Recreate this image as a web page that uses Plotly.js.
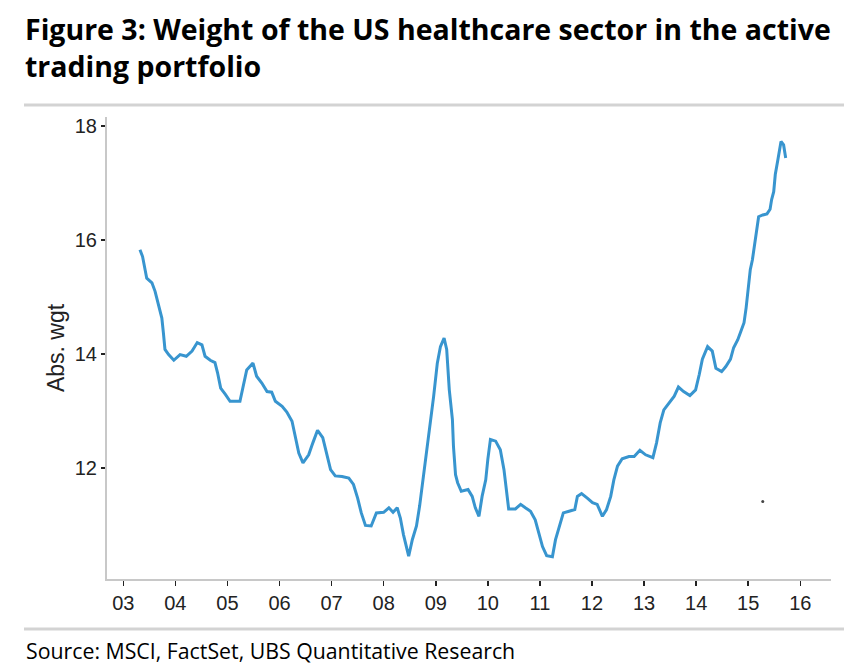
<!DOCTYPE html>
<html>
<head>
<meta charset="utf-8">
<script src="https://cdn.plot.ly/plotly-3.0.1.min.js"></script>
<style>
html,body{margin:0;padding:0;background:#fff;}
#chart{width:859px;height:670px;}
</style>
</head>
<body>
<div id="chart"></div>
<script>
// Time (fractional year) and absolute weight of US healthcare sector
var years = [2003.32,2003.37,2003.45,2003.55,2003.61,2003.67,2003.74,2003.77,2003.80,2003.87,2003.97,
2004.09,2004.21,2004.32,2004.42,2004.51,2004.57,2004.67,2004.76,2004.81,2004.87,2004.96,
2005.05,2005.24,2005.31,2005.37,2005.49,2005.56,2005.66,2005.76,2005.85,2005.92,
2006.05,2006.14,2006.24,2006.30,2006.37,2006.45,2006.56,2006.64,2006.73,2006.83,2006.90,2006.98,
2007.07,2007.20,2007.33,2007.42,2007.50,2007.57,2007.65,2007.76,2007.86,
2008.00,2008.10,2008.18,2008.26,2008.32,2008.38,2008.44,2008.48,2008.55,2008.63,2008.69,2008.74,2008.80,2008.88,2008.96,
2009.03,2009.09,2009.16,2009.21,2009.26,2009.32,2009.34,2009.38,2009.42,2009.49,2009.62,2009.70,2009.76,2009.83,2009.89,2009.96,
2010.00,2010.05,2010.15,2010.24,2010.31,2010.36,2010.40,2010.53,2010.63,2010.72,2010.82,2010.91,2010.98,
2011.05,2011.13,2011.24,2011.30,2011.37,2011.45,2011.56,2011.67,2011.72,2011.80,2011.91,
2012.01,2012.10,2012.20,2012.28,2012.36,2012.42,2012.49,2012.58,2012.71,2012.81,2012.92,
2013.03,2013.17,2013.24,2013.31,2013.38,2013.48,2013.58,2013.66,2013.76,2013.88,2013.99,
2014.06,2014.12,2014.22,2014.31,2014.38,2014.49,2014.57,2014.66,2014.72,2014.80,2014.86,2014.92,2014.96,
2015.00,2015.04,2015.08,2015.12,2015.15,2015.20,2015.28,2015.36,2015.42,2015.45,2015.49,2015.52,2015.57,2015.60,2015.63,2015.68,2015.72];
var absWgt = [15.83,15.71,15.33,15.25,15.10,14.86,14.63,14.37,14.08,13.99,13.89,
13.99,13.96,14.05,14.20,14.16,13.96,13.89,13.85,13.67,13.40,13.29,
13.17,13.17,13.49,13.72,13.84,13.61,13.49,13.34,13.33,13.17,
13.08,12.98,12.82,12.53,12.26,12.09,12.23,12.44,12.66,12.53,12.26,11.97,
11.86,11.85,11.82,11.71,11.47,11.21,10.99,10.98,11.21,
11.22,11.30,11.22,11.30,11.12,10.83,10.60,10.45,10.74,10.98,11.33,11.68,12.15,12.70,13.26,
13.84,14.13,14.28,14.08,13.37,12.85,12.38,11.88,11.74,11.59,11.62,11.50,11.30,11.15,11.50,11.79,
12.15,12.50,12.47,12.32,11.97,11.56,11.28,11.28,11.36,11.30,11.24,11.09,10.86,
10.62,10.46,10.44,10.74,10.95,11.21,11.24,11.27,11.50,11.55,11.47,
11.39,11.36,11.15,11.27,11.50,11.79,12.03,12.16,12.20,12.20,12.31,
12.23,12.18,12.44,12.79,13.02,13.14,13.26,13.42,13.34,13.27,13.37,
13.64,13.91,14.13,14.05,13.75,13.69,13.78,13.91,14.11,14.25,14.40,14.55,14.81,
15.13,15.48,15.65,15.89,16.12,16.41,16.44,16.46,16.54,16.71,16.85,17.15,17.41,17.60,17.73,17.67,17.44];
// stray dot visible in the original
var dotX = [2015.28];
var dotY = [11.41];
var tickYears = [2003,2004,2005,2006,2007,2008,2009,2010,2011,2012,2013,2014,2015,2016];
var tickLabels = ['03','04','05','06','07','08','09','10','11','12','13','14','15','16'];
var yTicks = [12,14,16,18];

var W = 859, H = 670, L = 107, R = 28, T = 117, B = 91;
var pw = W - L - R, ph = H - T - B;
function px(x){ return (x - L) / pw; }
function py(y){ return (H - B - y) / ph; }

var traces = [
  {x: years, y: absWgt, type: 'scatter', mode: 'lines',
   line: {color: '#3895cf', width: 3}, hoverinfo: 'skip'},
  {x: dotX, y: dotY, type: 'scatter', mode: 'markers',
   marker: {color: '#444', size: 3}, hoverinfo: 'skip'}
];

var layout = {
  width: W, height: H,
  margin: {l: L, r: R, t: T, b: B, pad: 0},
  paper_bgcolor: '#fff', plot_bgcolor: '#fff',
  showlegend: false,
  title: {
    text: 'Figure 3: Weight of the US healthcare sector in the active<br>trading portfolio',
    font: {family: 'Open Sans', size: 28.5, color: '#000', weight: 'bold'},
    xref: 'container', yref: 'container',
    x: 25 / W, xanchor: 'left',
    y: 1 - 40 / H, yanchor: 'top',
    pad: {t: 0, b: 0, l: 0, r: 0}
  },
  xaxis: {
    range: [2002.687, 2016.59],
    tickvals: tickYears, ticktext: tickLabels,
    showgrid: false, zeroline: false,
    showline: true, linecolor: '#c8c8c8', linewidth: 2,
    ticks: 'outside', ticklen: 5, tickwidth: 1.5, tickcolor: '#222',
    tickfont: {family: 'Liberation Sans, Arial', size: 20, color: '#222'}
  },
  yaxis: {
    range: [10.05, 18.16],
    tickvals: yTicks,
    showgrid: false, zeroline: false,
    showline: true, linecolor: '#c8c8c8', linewidth: 2,
    ticks: 'outside', ticklen: 4, tickwidth: 1.5, tickcolor: '#222',
    tickfont: {family: 'Liberation Sans, Arial', size: 20, color: '#222'},
    title: {text: 'Abs. wgt', font: {family: 'Liberation Sans, Arial', size: 23, color: '#222'}, standoff: 4}
  },
  shapes: [
    {type: 'line', xref: 'paper', yref: 'paper', x0: px(24), x1: px(844), y0: py(105), y1: py(105),
     line: {color: '#d3d3d3', width: 3}},
    {type: 'line', xref: 'paper', yref: 'paper', x0: px(24), x1: px(844), y0: py(629), y1: py(629),
     line: {color: '#d3d3d3', width: 3}}
  ],
  annotations: [
    {text: 'Source: MSCI, FactSet, UBS Quantitative Research', xref: 'paper', yref: 'paper',
     x: px(24), xanchor: 'left', y: py(634), yanchor: 'top', showarrow: false,
     font: {family: 'Open Sans', size: 21.3, color: '#000'}}
  ]
};

Plotly.newPlot('chart', traces, layout, {staticPlot: true, displayModeBar: false});
</script>
</body>
</html>
